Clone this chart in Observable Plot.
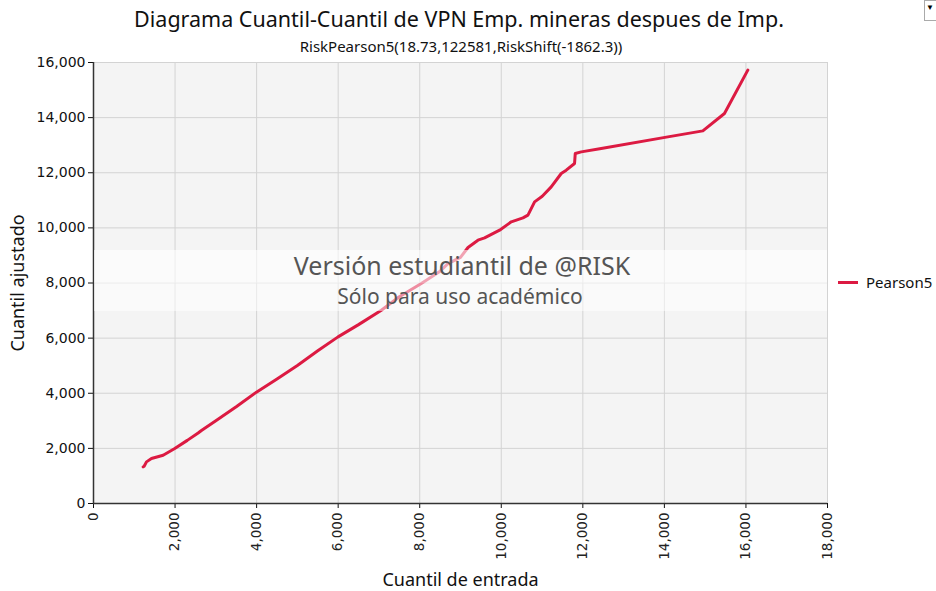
<!DOCTYPE html>
<html>
<head>
<meta charset="utf-8">
<script src="https://cdn.jsdelivr.net/npm/d3@7"></script>
<script src="https://cdn.jsdelivr.net/npm/@observablehq/plot@0.6"></script>
<style>
  html, body { margin: 0; padding: 0; background: #fff; }
  #wrap { position: relative; width: 936px; height: 591px; overflow: hidden; font-family: "Noto Sans", sans-serif; }
  #chart { position: absolute; left: 0; top: 0; }
  .abs { position: absolute; white-space: nowrap; line-height: 1.2; }
  #title { left: 0; width: 918px; top: 6px; text-align: center; font-size: 21.5px; color: #111; }
  #subtitle { left: 0; width: 922px; top: 37px; text-align: center; font-size: 15px; color: #111; }
  .band { position: absolute; left: 94px; width: 733px; }
  #wm1 { left: 93px; width: 738px; top: 250px; text-align: center; font-size: 25px; color: #555; }
  #wm2 { left: 93px; width: 734px; top: 284px; text-align: center; font-size: 21px; color: #555; }
  #legend { left: 838px; top: 273px; font-size: 15px; color: #111; display: flex; align-items: center; }
  #legend span.sw { display: inline-block; width: 20px; height: 3px; background: #dc1a42; margin-right: 8px; }
  #dd { right: 0; top: 0; width: 10px; height: 19px; border: 1px solid #aaa; border-right: none; background: #fff; font-size: 8px; line-height: 12px; color: #000; padding-left: 1px; }
</style>
</head>
<body>
<div id="wrap">
  <div id="chart"></div>
  <div class="band" style="top:250px;height:33px;background:rgba(255,255,255,0.6)"></div>
  <div class="band" style="top:283px;height:28px;background:rgba(255,255,255,0.5)"></div>
  <div class="abs" id="title">Diagrama Cuantil-Cuantil de VPN Emp. mineras despues de Imp.</div>
  <div class="abs" id="subtitle">RiskPearson5(18.73,122581,RiskShift(-1862.3))</div>
  <div class="abs" id="wm1">Versión estudiantil de @RISK</div>
  <div class="abs" id="wm2">Sólo para uso académico</div>
  <div class="abs" id="legend"><span class="sw"></span>Pearson5</div>
  <div class="abs" id="dd">▼</div>
</div>
<script>
// Input quantiles (x) and fitted quantiles (y)
const inputQuantile = [1218,1242,1299,1422,1708,1993,2300,2566,2647,3000,3500,3995,4500,5000,5500,5997,6500,7059,7500,8039,8500,8693,9000,9184,9428,9591,9959,10245,10532,10654,10817,11005,11225,11470,11593,11797,11814,11961,12451,14085,14943,15473,16046];
const fittedQuantile = [1328,1353,1510,1633,1753,1996,2290,2560,2650,3000,3510,4040,4520,5010,5540,6045,6490,7014,7500,7982,8430,8700,8930,9289,9554,9638,9917,10219,10363,10461,10943,11150,11488,11973,12093,12336,12699,12757,12880,13302,13520,14151,15722];
const xTicks = [0,2000,4000,6000,8000,10000,12000,14000,16000,18000];
const yTicks = [0,2000,4000,6000,8000,10000,12000,14000,16000];
const seriesName = "Pearson5";

const data = inputQuantile.map((x, i) => ({x, y: fittedQuantile[i], s: seriesName}));
const fmt = d3.format(",");

const chart = Plot.plot({
  width: 936,
  height: 591,
  marginLeft: 93,
  marginRight: 109,
  marginTop: 62,
  marginBottom: 88,
  style: {background: "transparent", color: "#111"},
  x: {domain: [0, 18000], ticks: xTicks, tickFormat: fmt},
  y: {domain: [0, 16000], ticks: yTicks, tickFormat: fmt},
  marks: [
    Plot.frame({fill: "#f4f4f4", stroke: null}),
    Plot.gridX(xTicks, {stroke: "#d3d3d3", strokeOpacity: 1}),
    Plot.gridY(yTicks, {stroke: "#d3d3d3", strokeOpacity: 1}),
    Plot.line(data, {x: "x", y: "y", stroke: "#dc1a42", strokeWidth: 3, strokeLinejoin: "round"}),
    Plot.axisX(xTicks, {tickSize: 5, tickRotate: -90, tickFormat: fmt, fontSize: 13.5, fontFamily: "DejaVu Sans", fill: "#222", label: null, tickPadding: 4}),
    Plot.axisY(yTicks, {tickSize: 5, tickFormat: fmt, fontSize: 14, fontFamily: "DejaVu Sans", fill: "#111", label: null, tickPadding: 3}),
    Plot.ruleX([0], {stroke: "#333", strokeWidth: 1.5}),
    Plot.ruleY([0], {stroke: "#333", strokeWidth: 1.5}),
    Plot.text(["Cuantil de entrada"], {frameAnchor: "bottom", textAnchor: "middle", dy: 82, fontSize: 18, fontFamily: "Noto Sans", fill: "#111"}),
    Plot.text(["Cuantil ajustado"], {frameAnchor: "left", textAnchor: "middle", dx: -75, rotate: -90, fontSize: 18, fontFamily: "Noto Sans", fill: "#111"})
  ]
});
document.getElementById("chart").appendChild(chart);
</script>
</body>
</html>
